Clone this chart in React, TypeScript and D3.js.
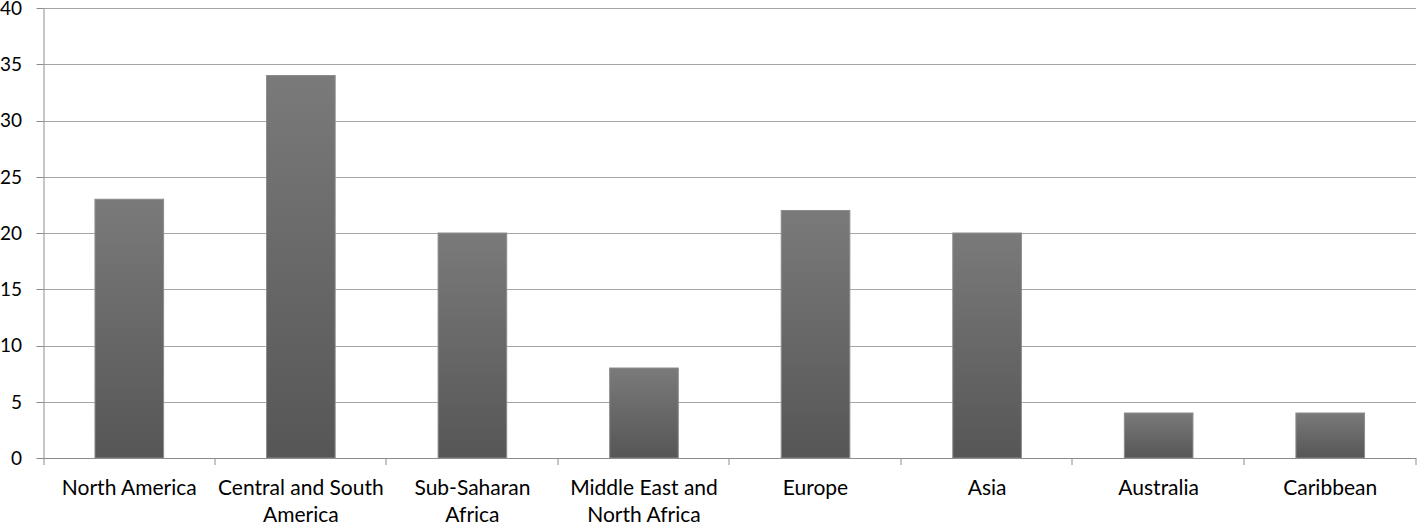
import React, { useRef, useEffect } from 'react';
import * as d3 from 'd3';

const categories = [
  'North America',
  'Central and South America',
  'Sub-Saharan Africa',
  'Middle East and North Africa',
  'Europe',
  'Asia',
  'Australia',
  'Caribbean',
];
// how each category label breaks onto lines
const labelLines = [
  ['North America'],
  ['Central and South', 'America'],
  ['Sub-Saharan', 'Africa'],
  ['Middle East and', 'North Africa'],
  ['Europe'],
  ['Asia'],
  ['Australia'],
  ['Caribbean'],
];
const values = [23, 34, 20, 8, 22, 20, 4, 4];
const yTicks = [0, 5, 10, 15, 20, 25, 30, 35, 40];

const App = () => {
  const svgRef = useRef<SVGSVGElement>(null);

  useEffect(() => {
    const W = 1418;
    const H = 523;
    const margin = { top: 8, right: 2, bottom: 65, left: 43.5 };
    const width = W - margin.left - margin.right;
    const height = H - margin.top - margin.bottom;
    const font = 'Lato, "Open Sans", sans-serif';

    const root = d3.select(svgRef.current).attr('width', W).attr('height', H);
    root.selectAll('*').remove();

    const defs = root.append('defs');
    const grad = defs.append('linearGradient')
      .attr('id', 'barGrad')
      .attr('x1', 0).attr('y1', 0).attr('x2', 0).attr('y2', 1);
    grad.append('stop').attr('offset', '0%').attr('stop-color', '#7a7a7a');
    grad.append('stop').attr('offset', '100%').attr('stop-color', '#565656');

    const svg = root.append('g').attr('transform', `translate(${margin.left},${margin.top})`);

    const x = d3.scaleBand().domain(categories).range([0, width]).paddingInner(0.6).paddingOuter(0.3);
    const y = d3.scaleLinear().domain([0, 40]).range([height, 0]);

    // gridlines
    svg.selectAll('.grid')
      .data(yTicks.filter(t => t > 0))
      .enter()
      .append('line')
      .attr('x1', 0).attr('x2', width)
      .attr('y1', d => Math.round(y(d)) + 0.5).attr('y2', d => Math.round(y(d)) + 0.5)
      .attr('stroke', '#a6a6a6').attr('stroke-width', 1);

    // bars
    svg.selectAll('.bar')
      .data(values)
      .enter()
      .append('rect')
      .attr('x', (d, i) => x(categories[i])!)
      .attr('y', d => y(d))
      .attr('width', x.bandwidth())
      .attr('height', d => height - y(d))
      .attr('fill', 'url(#barGrad)')
      .attr('stroke', '#8c8c8c')
      .attr('stroke-width', 1);

    const step = width / categories.length;

    // y axis line + ticks
    svg.append('line')
      .attr('x1', 0.5).attr('x2', 0.5).attr('y1', 0).attr('y2', height + 7)
      .attr('stroke', '#8c8c8c');
    svg.selectAll('.ytick')
      .data(yTicks)
      .enter()
      .append('line')
      .attr('x1', -7).attr('x2', 0)
      .attr('y1', d => Math.round(y(d)) + 0.5).attr('y2', d => Math.round(y(d)) + 0.5)
      .attr('stroke', '#8c8c8c');
    svg.selectAll('.ylabel')
      .data(yTicks)
      .enter()
      .append('text')
      .attr('x', -21.5)
      .attr('y', d => y(d))
      .attr('dy', '0.36em')
      .attr('text-anchor', 'end')
      .style('font-family', font)
      .style('font-size', '19px')
      .style('fill', '#000')
      .text(d => d);

    // x axis line + ticks at category boundaries
    svg.append('line')
      .attr('x1', 0).attr('x2', width).attr('y1', height + 0.5).attr('y2', height + 0.5)
      .attr('stroke', '#8c8c8c');
    svg.selectAll('.xtick')
      .data(d3.range(1, categories.length + 1))
      .enter()
      .append('line')
      .attr('x1', d => Math.round(d * step) - 0.5).attr('x2', d => Math.round(d * step) - 0.5)
      .attr('y1', height).attr('y2', height + 7)
      .attr('stroke', '#8c8c8c');

    // category labels
    const labels = svg.selectAll('.xlabel')
      .data(categories)
      .enter()
      .append('text')
      .attr('text-anchor', 'middle')
      .style('font-family', font)
      .style('font-size', '21px')
      .style('fill', '#000')
      .attr('transform', d => `translate(${x(d)! + x.bandwidth() / 2},${height + 37})`);
    labels.each(function (d, i) {
      d3.select(this).selectAll('tspan')
        .data(labelLines[i])
        .enter()
        .append('tspan')
        .attr('x', 0)
        .attr('y', (l, j) => j * 27)
        .text(l => l);
    });
  }, []);

  return (
    <svg ref={svgRef} style={{ position: 'absolute', left: 0, top: 0 }}></svg>
  );
};

export default App;
